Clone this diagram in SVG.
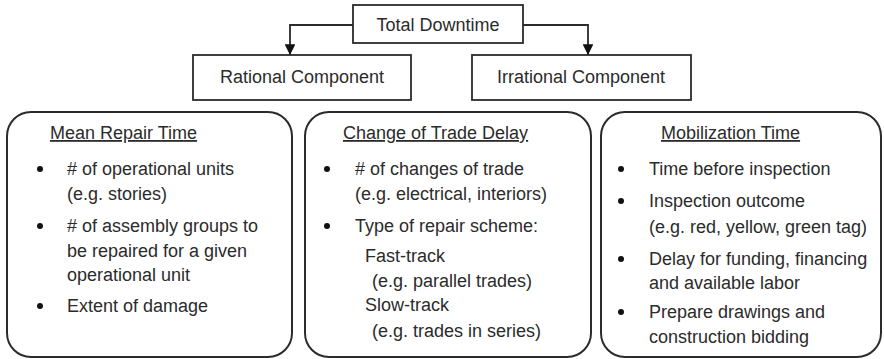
<svg xmlns="http://www.w3.org/2000/svg" width="884" height="359" viewBox="0 0 884 359">
<style>
.box{fill:#fff;stroke:#2b2b2b;stroke-width:1.8}
.rbox{fill:#fff;stroke:#2b2b2b;stroke-width:2}
text{font-family:"Liberation Sans",Arial,sans-serif;font-size:18px;fill:#2b2b2b}
.c{text-anchor:middle}
.u{text-decoration:underline}
.b{fill:#111}
.ln{fill:none;stroke:#2b2b2b;stroke-width:1.8}
</style>
<defs>
<marker id="ah" viewBox="0 0 10 10" refX="10" refY="5" markerWidth="6" markerHeight="6" orient="auto" markerUnits="strokeWidth">
<path d="M0,0 L10,5 L0,10 Z" fill="#111"/>
</marker>
</defs>
<g id="connectors">
<path class="ln" d="M353,25 H290 V55" marker-end="url(#ah)"/>
<path class="ln" d="M523,25 H588 V55" marker-end="url(#ah)"/>
</g>
<g id="total">
<rect class="box" x="353" y="5" width="170" height="38"/>
<text class="c" x="438" y="31">Total Downtime</text>
</g>
<g id="rational">
<rect class="box" x="193" y="55" width="218" height="45"/>
<text class="c" x="302" y="83">Rational Component</text>
</g>
<g id="irrational">
<rect class="box" x="472" y="55" width="219" height="45"/>
<text class="c" x="581" y="83">Irrational Component</text>
</g>
<g id="mean-repair">
<rect class="rbox" x="7" y="112" width="285" height="245" rx="24" ry="24"/>
<text class="u" x="50" y="139">Mean Repair Time</text>
<circle class="b" cx="40" cy="169" r="3"/>
<text x="67" y="175"># of operational units</text>
<text x="67" y="200">(e.g. stories)</text>
<circle class="b" cx="40" cy="226" r="3"/>
<text x="67" y="232"># of assembly groups to</text>
<text x="67" y="257">be repaired for a given</text>
<text x="67" y="281">operational unit</text>
<circle class="b" cx="40" cy="306" r="3"/>
<text x="67" y="312">Extent of damage</text>
</g>
<g id="change-of-trade">
<rect class="rbox" x="305" y="112" width="286" height="245" rx="24" ry="24"/>
<text class="u" x="343" y="139">Change of Trade Delay</text>
<circle class="b" cx="327" cy="169" r="3"/>
<text x="355" y="175"># of changes of trade</text>
<text x="355" y="200">(e.g. electrical, interiors)</text>
<circle class="b" cx="327" cy="226" r="3"/>
<text x="355" y="232">Type of repair scheme:</text>
<text x="365" y="262">Fast-track</text>
<text x="372" y="287">(e.g. parallel trades)</text>
<text x="365" y="311">Slow-track</text>
<text x="372" y="337">(e.g. trades in series)</text>
</g>
<g id="mobilization">
<rect class="rbox" x="601" y="112" width="280" height="245" rx="24" ry="24"/>
<text class="u" x="661" y="139">Mobilization Time</text>
<circle class="b" cx="621" cy="169" r="3"/>
<text x="649" y="175">Time before inspection</text>
<circle class="b" cx="621" cy="201" r="3"/>
<text x="649" y="207">Inspection outcome</text>
<text x="649" y="233">(e.g. red, yellow, green tag)</text>
<circle class="b" cx="621" cy="259" r="3"/>
<text x="649" y="265">Delay for funding, financing</text>
<text x="649" y="289">and available labor</text>
<circle class="b" cx="621" cy="312" r="3"/>
<text x="649" y="318">Prepare drawings and</text>
<text x="649" y="343">construction bidding</text>
</g>
</svg>
